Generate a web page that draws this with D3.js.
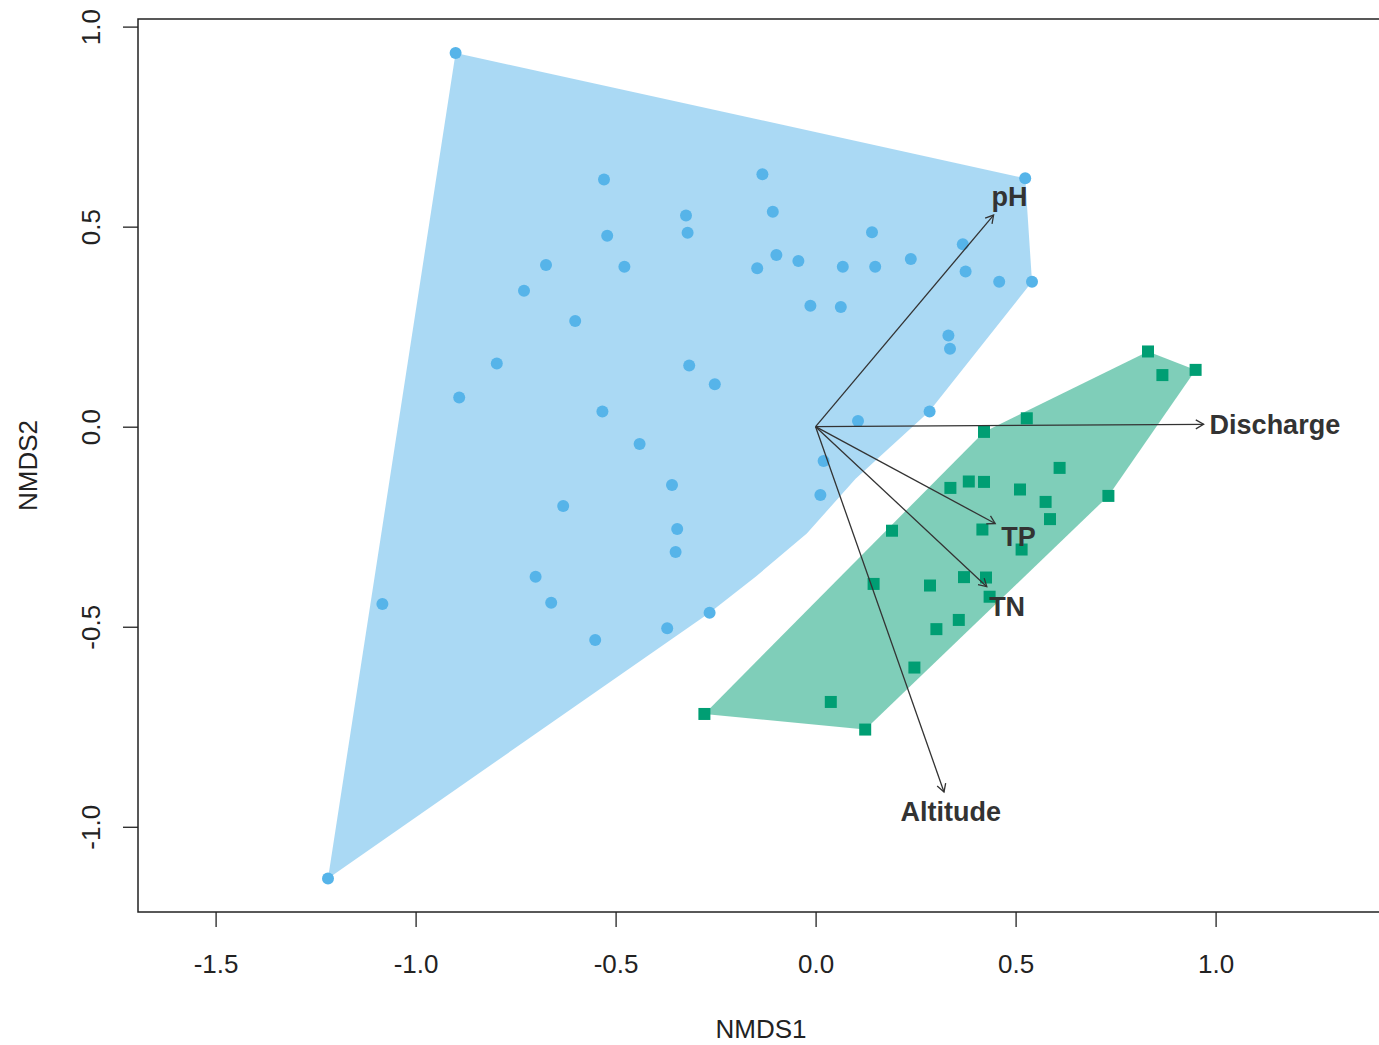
<!DOCTYPE html>
<html>
<head>
<meta charset="utf-8">
<script src="https://cdn.jsdelivr.net/npm/d3@7"></script>
<style>
  body { margin: 0; background: #fff; }
  text { font-family: "Liberation Sans", Arial, sans-serif; }
</style>
</head>
<body>
<svg id="chart"></svg>
<script>
// site scores, group 1 (circles)
const blueX = [-0.900, -0.529, -0.133, -0.107, -0.324, -0.320, -0.521, -0.674, -0.478, -0.098,
               -0.043, -0.146, 0.068, -0.729, -0.013, 0.063, -0.601, -0.797, -0.316, -0.252,
               -0.891, -0.533, -0.440, 0.020, 0.106, 0.524, 0.141, 0.368, 0.149, 0.238,
               0.375, 0.459, 0.541, 0.332, 0.336, 0.285, 0.012, -0.359, -0.631, -0.346,
               -0.350, -0.700, -1.083, -0.661, -0.265, -0.371, -0.551, -1.219];
const blueY = [0.934, 0.618, 0.631, 0.537, 0.528, 0.485, 0.477, 0.404, 0.400, 0.429,
               0.414, 0.396, 0.400, 0.340, 0.302, 0.299, 0.264, 0.158, 0.153, 0.106,
               0.073, 0.038, -0.043, -0.086, 0.014, 0.621, 0.486, 0.456, 0.400, 0.419,
               0.388, 0.362, 0.362, 0.228, 0.195, 0.038, -0.171, -0.146, -0.198, -0.256,
               -0.313, -0.375, -0.443, -0.440, -0.465, -0.504, -0.533, -1.129];
// outline of group 1 as drawn
const blueHullX = [-0.900, 0.524, 0.541, 0.284, 0.100, -0.022, -0.150, -0.265, -1.219];
const blueHullY = [0.934, 0.621, 0.362, 0.038, -0.130, -0.267, -0.375, -0.465, -1.129];

// site scores, group 2 (squares)
const greenX = [-0.278, 0.124, 0.038, 0.247, 0.302, 0.358, 0.286, 0.371, 0.145, 0.191,
                0.337, 0.383, 0.421, 0.831, 0.867, 0.950, 0.528, 0.421, 0.610, 0.511,
                0.732, 0.575, 0.586, 0.417, 0.515, 0.426, 0.435];
const greenY = [-0.718, -0.757, -0.688, -0.602, -0.506, -0.483, -0.397, -0.376, -0.393, -0.260,
                -0.153, -0.137, -0.138, 0.188, 0.129, 0.142, 0.021, -0.013, -0.103, -0.157,
                -0.173, -0.188, -0.231, -0.257, -0.307, -0.377, -0.425];

// envfit vectors
const vecNames = ["pH", "Discharge", "TP", "TN", "Altitude"];
const vecX = [0.445, 0.970, 0.449, 0.428, 0.321];
const vecY = [0.529, 0.006, -0.242, -0.400, -0.913];

const xTicks = [-1.5, -1.0, -0.5, 0.0, 0.5, 1.0];
const yTicks = [-1.0, -0.5, 0.0, 0.5, 1.0];

const width = 1379;
const height = 1045;
const margin = {left: 138, top: 19, right: -5, bottom: 133};

const blue = "#56B4E9";
const green = "#009E73";
const ink = "#333333";

const svg = d3.select("#chart")
    .attr("width", width)
    .attr("height", height);

const x = d3.scaleLinear()
    .domain([-1.694, 1.421])
    .range([margin.left, width - margin.right]);
const y = d3.scaleLinear()
    .domain([-1.213, 1.019])
    .range([height - margin.bottom, margin.top]);

// hulls
const blueHull = blueHullX.map((v, i) => [x(v), y(blueHullY[i])]);
const greenPts = greenX.map((v, i) => [x(v), y(greenY[i])]);
const greenHull = d3.polygonHull(greenPts);

svg.append("path")
    .attr("d", "M" + blueHull.join("L") + "Z")
    .attr("fill", blue)
    .attr("fill-opacity", 0.5);

svg.append("path")
    .attr("d", "M" + greenHull.join("L") + "Z")
    .attr("fill", green)
    .attr("fill-opacity", 0.5);

// points
svg.append("g").selectAll("circle")
    .data(blueX.map((v, i) => [v, blueY[i]]))
    .enter().append("circle")
    .attr("cx", d => x(d[0]))
    .attr("cy", d => y(d[1]))
    .attr("r", 6)
    .attr("fill", blue);

const sq = 12;
svg.append("g").selectAll("rect")
    .data(greenX.map((v, i) => [v, greenY[i]]))
    .enter().append("rect")
    .attr("x", d => x(d[0]) - sq / 2)
    .attr("y", d => y(d[1]) - sq / 2)
    .attr("width", sq)
    .attr("height", sq)
    .attr("fill", green);

// arrows
const vectors = vecNames.map((n, i) => ({name: n, vx: vecX[i], vy: vecY[i]}));
const arrows = svg.append("g")
    .attr("stroke", ink)
    .attr("stroke-width", 1.3)
    .attr("fill", "none");

const headLen = 9;
vectors.forEach(d => {
    const x0 = x(0), y0 = y(0), x1 = x(d.vx), y1 = y(d.vy);
    const ang = Math.atan2(y1 - y0, x1 - x0);
    arrows.append("line")
        .attr("x1", x0).attr("y1", y0)
        .attr("x2", x1).attr("y2", y1);
    const a1 = ang + Math.PI - Math.PI / 6;
    const a2 = ang + Math.PI + Math.PI / 6;
    arrows.append("path")
        .attr("d", `M${x1 + headLen * Math.cos(a1)},${y1 + headLen * Math.sin(a1)}L${x1},${y1}L${x1 + headLen * Math.cos(a2)},${y1 + headLen * Math.sin(a2)}`);
});

// labels just beyond the arrow heads
const labels = svg.append("g");
vectors.forEach(d => {
    const t = labels.append("text")
        .text(d.name)
        .attr("font-size", "27px")
        .attr("font-weight", "bold")
        .attr("fill", ink)
        .attr("text-anchor", "middle");
    const bb = t.node().getBBox();
    const hw = bb.width / 2 + 6;
    const hh = 13 + 6;
    const dx = x(d.vx) - x(0), dy = y(d.vy) - y(0);
    const len = Math.hypot(dx, dy);
    const ux = dx / len, uy = dy / len;
    const s = Math.min(Math.abs(ux) > 1e-6 ? hw / Math.abs(ux) : Infinity,
                       Math.abs(uy) > 1e-6 ? hh / Math.abs(uy) : Infinity);
    const cx = x(d.vx) + ux * s;
    const cy = y(d.vy) + uy * s;
    t.attr("x", cx).attr("y", cy + 10);
});

// frame
svg.append("rect")
    .attr("x", margin.left)
    .attr("y", margin.top)
    .attr("width", width - margin.right - margin.left)
    .attr("height", height - margin.bottom - margin.top)
    .attr("fill", "none")
    .attr("stroke", "#222")
    .attr("stroke-width", 1.5);

// axes
const fmt = d => d.toFixed(1);

const xAxis = svg.append("g")
    .attr("transform", `translate(0,${height - margin.bottom})`)
    .call(d3.axisBottom(x).tickValues(xTicks).tickFormat(fmt).tickSize(15));
xAxis.select(".domain").remove();
xAxis.selectAll("line").attr("stroke", "#222").attr("stroke-width", 1.3);
xAxis.selectAll("text")
    .attr("y", 973 - (height - margin.bottom))
    .attr("dy", 0)
    .attr("fill", "#222")
    .style("font-size", "26px");

const yAxis = svg.append("g")
    .attr("transform", `translate(${margin.left},0)`)
    .call(d3.axisLeft(y).tickValues(yTicks).tickFormat(fmt).tickSize(15));
yAxis.select(".domain").remove();
yAxis.selectAll("line").attr("stroke", "#222").attr("stroke-width", 1.3);
yAxis.selectAll("text")
    .attr("x", 0)
    .attr("dy", 0)
    .attr("text-anchor", "middle")
    .attr("transform", `translate(${100 - margin.left},0) rotate(-90)`)
    .attr("fill", "#222")
    .style("font-size", "26px");

// axis titles
svg.append("text")
    .attr("x", (margin.left + width - margin.right) / 2)
    .attr("y", 1038)
    .attr("text-anchor", "middle")
    .attr("fill", "#222")
    .style("font-size", "26px")
    .text("NMDS1");

svg.append("text")
    .attr("transform", `translate(37,${(margin.top + height - margin.bottom) / 2}) rotate(-90)`)
    .attr("text-anchor", "middle")
    .attr("fill", "#222")
    .style("font-size", "26px")
    .text("NMDS2");
</script>
</body>
</html>
